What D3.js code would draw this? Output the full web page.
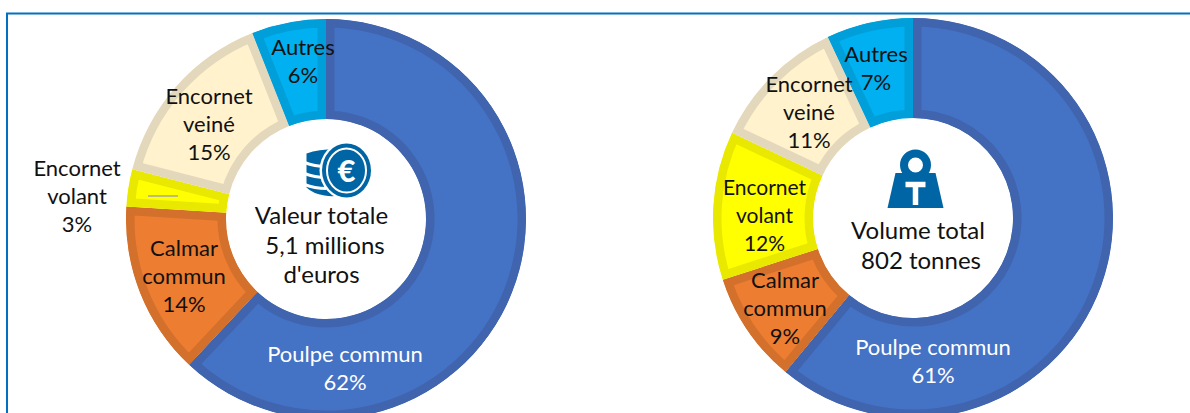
<!DOCTYPE html>
<html>
<head>
<meta charset="utf-8">
<script src="https://cdn.jsdelivr.net/npm/d3@7"></script>
<style>
  html, body { margin: 0; padding: 0; background: #fff; }
  svg { display: block; }
  text { font-family: Lato, "Noto Sans", sans-serif; font-size: 22px; text-anchor: middle; fill: #111; }
</style>
</head>
<body>
<svg id="chart" width="1190" height="413"></svg>
<script>
// Slice data, clockwise from twelve o'clock
const SPECIES = ['Poulpe commun', 'Calmar commun', 'Encornet volant', 'Encornet veiné', 'Autres'];
const VALUE_SHARE = [62, 14, 3, 15, 6];
const VOLUME_SHARE = [61, 9, 12, 11, 7];

const FILLS = ['#4472C4', '#ED7D31', '#FFFF00', '#FFF2CC', '#00B0F0'];
const BORDERS = ['#4064AE', '#D3702C', '#E8E800', '#E3D8BC', '#009FD9'];

const VALUE_CENTRE = ['Valeur totale', '5,1 millions', "d'euros"];
const VOLUME_CENTRE = ['Volume total', '802 tonnes'];

const FRAME = '#0070C0';
const ICON = '#0065A4';
const OUTER = 200, INNER = 100, BORDER = 8.5;

const svg = d3.select('#chart');

// Frame: left and top edges only reach the picture
svg.append('path')
    .attr('d', 'M7,413V13.5H1190')
    .attr('fill', 'none')
    .attr('stroke', FRAME)
    .attr('stroke-width', 2);

const pie = d3.pie().sort(null);
const arc = d3.arc().innerRadius(INNER).outerRadius(OUTER);

function donut(id, cx, cy, shares, labels) {
    const g = svg.append('g').attr('transform', `translate(${cx},${cy})`);
    const slices = pie(shares);

    // Border sits inside the slice, so clip a double width stroke
    const cell = g.selectAll('g.slice').data(slices).enter().append('g').attr('class', 'slice');
    cell.append('clipPath')
        .attr('id', (d, i) => `${id}-clip${i}`)
        .append('path').attr('d', arc);
    cell.append('path')
        .attr('d', arc)
        .attr('fill', (d, i) => FILLS[i])
        .attr('stroke', (d, i) => BORDERS[i])
        .attr('stroke-width', BORDER * 2)
        .attr('clip-path', (d, i) => `url(#${id}-clip${i})`);

    labels.forEach((lab, i) => {
        const t = g.append('text')
            .attr('y', lab.y - cy)
            .style('fill', i === 0 ? '#fff' : '#111')
            .style('font-size', (lab.size || 22) + 'px');
        lab.lines.forEach((line, k) => {
            t.append('tspan')
                .attr('x', lab.x - cx)
                .attr('dy', k === 0 ? 0 : 27.8)
                .text(line);
        });
    });
    return g;
}

function lines(i, share) {
    const words = SPECIES[i] === 'Poulpe commun' ? [SPECIES[i]] : SPECIES[i].split(' ');
    return words.concat(share + '%');
}

const leftPos = [[345, 362], [184, 256], [77, 176], [209, 104], [303, 55]];
const rightPos = [[933, 355], [785, 288], [764.5, 195], [809, 92], [876, 62]];

const leftLabels = VALUE_SHARE.map((v, i) => ({x: leftPos[i][0], y: leftPos[i][1], lines: lines(i, v)}));
const rightLabels = VOLUME_SHARE.map((v, i) => ({
    x: rightPos[i][0], y: rightPos[i][1], lines: lines(i, v), size: i === 2 ? 21 : 22
}));

donut('val', 326, 219, VALUE_SHARE, leftLabels);
donut('vol', 913, 218, VOLUME_SHARE, rightLabels);

// Small grey leader left in the yellow slice
svg.append('line')
    .attr('x1', 148).attr('x2', 178)
    .attr('y1', 196).attr('y2', 196)
    .attr('stroke', '#A6A6A6')
    .attr('stroke-width', 1.5);

// Centre captions, lines are not quite centred on each other
const valueX = [321.5, 325, 321.5];
const volumeX = [918, 921];
VALUE_CENTRE.forEach((s, i) => {
    svg.append('text').attr('x', valueX[i]).attr('y', 224 + i * 29.7).style('font-size', '24px').text(s);
});
VOLUME_CENTRE.forEach((s, i) => {
    svg.append('text').attr('x', volumeX[i]).attr('y', 239 + i * 29.7).style('font-size', '24px').text(s);
});

// Coin stack icon
const coins = svg.append('g').attr('transform', 'translate(346.5,170.5)');
coins.append('path')
    .attr('d', 'M-40,-17Q-25,-22 -5,-21L-5,24Q-12,27 -22,25Q-34,23 -40,17Z')
    .attr('fill', ICON);
[-8, 3, 14].forEach(y => {
    coins.append('path')
        .attr('d', `M-42,${y}Q-32,${y + 4} -20,${y + 4}`)
        .attr('fill', 'none').attr('stroke', '#fff').attr('stroke-width', 3);
});
coins.append('ellipse').attr('rx', 27).attr('ry', 29).attr('fill', '#fff');
coins.append('ellipse').attr('rx', 24.5).attr('ry', 27).attr('fill', ICON);
coins.append('ellipse').attr('rx', 19.5).attr('ry', 22).attr('fill', 'none').attr('stroke', '#fff').attr('stroke-width', 2);
coins.append('text').attr('y', 11).text('€')
    .style('font-size', '31px').style('font-weight', 900).style('fill', '#fff');

// Weight icon
const weight = svg.append('g').attr('transform', 'translate(915.5,180)');
weight.append('circle').attr('cy', -15).attr('r', 11.5).attr('fill', '#fff')
    .attr('stroke', ICON).attr('stroke-width', 8);
weight.append('path').attr('d', 'M-20,-7H20L28,28H-28Z').attr('fill', ICON);
weight.append('path').attr('d', 'M-10,4.5H10M0,4.5V25')
    .attr('fill', 'none').attr('stroke', '#fff').attr('stroke-width', 5.5);
</script>
</body>
</html>
